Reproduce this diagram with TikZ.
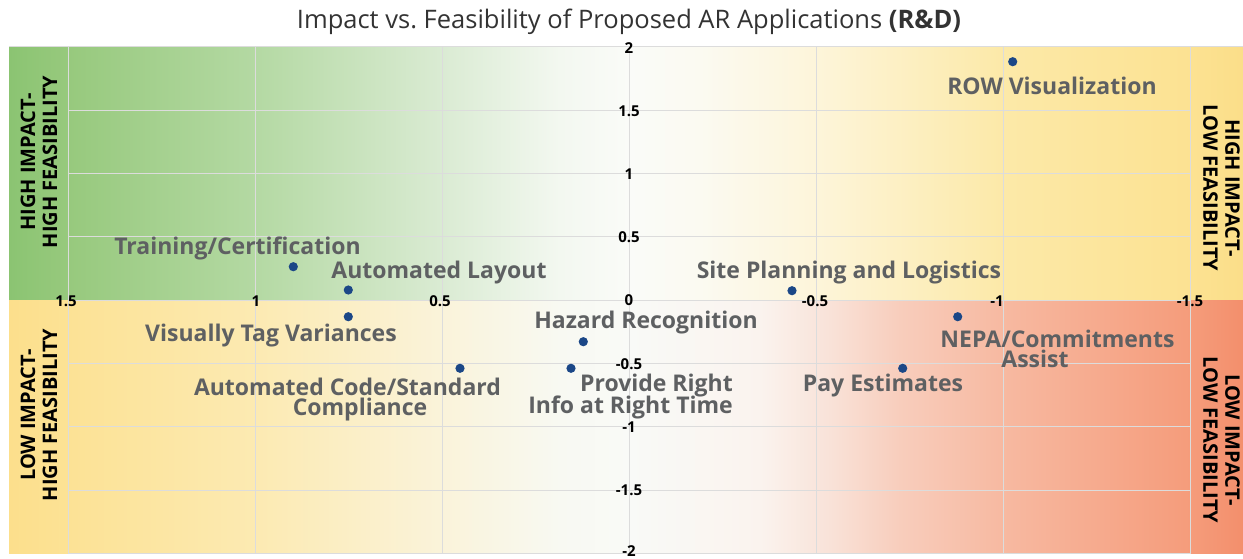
\documentclass[tikz,border=0pt]{standalone}
\usepackage{fontspec}
\setmainfont{Open Sans}
\definecolor{tA}{HTML}{8BC472}
\definecolor{tB}{HTML}{97C97D}
\definecolor{tC}{HTML}{B4D9A3}
\definecolor{tD}{HTML}{DAEBD3}
\definecolor{tE}{HTML}{F3F8F0}
\definecolor{tF}{HTML}{FAFBF8}
\definecolor{tG}{HTML}{FBFAF1}
\definecolor{tH}{HTML}{FDF5DA}
\definecolor{tI}{HTML}{FCE9A8}
\definecolor{tJ}{HTML}{FCE292}
\definecolor{tK}{HTML}{FBDE89}
\definecolor{bA}{HTML}{FCDF8C}
\definecolor{bB}{HTML}{FCE295}
\definecolor{bC}{HTML}{FCEAB2}
\definecolor{bD}{HTML}{FAF3DA}
\definecolor{bE}{HTML}{F8F9F2}
\definecolor{bF}{HTML}{F9FAF7}
\definecolor{bG}{HTML}{FAF3EE}
\definecolor{bH}{HTML}{F9E2D8}
\definecolor{bI}{HTML}{F8CDBC}
\definecolor{bJ}{HTML}{F7B9A1}
\definecolor{bK}{HTML}{F59C7B}
\definecolor{bL}{HTML}{F38F6C}
\definecolor{gridc}{HTML}{DCDCDC}
\definecolor{labc}{HTML}{5E6062}
\definecolor{dotc}{HTML}{1B4787}
\definecolor{titc}{HTML}{333333}
\pgfdeclarehorizontalshading{topshade}{100bp}{color(0bp)=(tA); color(25bp)=(tA); color(27.39bp)=(tB); color(35.01bp)=(tC); color(42.54bp)=(tD); color(47.32bp)=(tE); color(50.12bp)=(tF); color(53bp)=(tG); color(57.7bp)=(tH); color(65.28bp)=(tI); color(72.86bp)=(tJ); color(75bp)=(tK); color(100bp)=(tK)}
\pgfdeclarehorizontalshading{botshade}{100bp}{color(0bp)=(bA); color(25bp)=(bA); color(27.39bp)=(bB); color(35.01bp)=(bC); color(42.54bp)=(bD); color(47.32bp)=(bE); color(50.12bp)=(bF); color(55.43bp)=(bG); color(58.27bp)=(bH); color(61.1bp)=(bI); color(65.28bp)=(bJ); color(72.86bp)=(bK); color(75bp)=(bL); color(100bp)=(bL)}
\tikzset{
  gridline/.style={draw=gridc, line width=0.9pt},
  tick/.style={font=\fontsize{15}{18}\selectfont\bfseries, text=black, inner sep=0pt},
  lab/.style={font=\fontsize{23}{27}\selectfont\bfseries, text=labc, inner sep=0pt, anchor=base},
  dot/.style={circle, fill=dotc, minimum size=9.2pt, inner sep=0pt},
  band/.style={font=\fontsize{20}{22}\selectfont\bfseries, text=black, align=center, inner sep=0pt}
}
\begin{document}
\begin{tikzpicture}[x=1pt,y=-1pt]
\useasboundingbox (0,0) rectangle (1243,558);
\fill[white] (0,0) rectangle (1243,558);
\shade[shading=topshade] (9,46.7) rectangle (1243,300);
\shade[shading=botshade] (9,300) rectangle (1243,553.3);
% grid
\draw[gridline] (9,46.7) -- (1243,46.7);
\foreach \gx in {68,255.3,442.6,629,816.3,1003.6,1190.9}
  \draw[gridline] (\gx,46.7) -- (\gx,553.3);
\foreach \gy in {110,173.4,236.7,300,363.3,426.7,490,553.3}
  \draw[gridline] (68,\gy) -- (1190.9,\gy);
% title
\node[anchor=base, font=\fontsize{25.5}{29}\selectfont, text=titc, inner sep=0pt] (title) at (629,28) {Impact vs.\ Feasibility of Proposed AR Applications \textbf{(R\&D)}};
% x ticks
\node[tick] (xa) at (66,301) {1.5};
\node[tick] (xb) at (256,301) {1};
\node[tick] (xc) at (440,301) {0.5};
\node[tick] (xo) at (629,300) {0};
\node[tick] (xd) at (815,301) {-0.5};
\node[tick] (xe) at (997,301) {-1};
\node[tick] (xf) at (1190,301) {-1.5};
% y ticks
\node[tick] (ya) at (629,48) {2};
\node[tick] (yb) at (629,111) {1.5};
\node[tick] (yc) at (629,174) {1};
\node[tick] (yd) at (629,237.5) {0.5};
\node[tick] (ye) at (629,364.5) {-0.5};
\node[tick] (yf) at (629,427) {-1};
\node[tick] (yg) at (629,490) {-1.5};
\node[tick] (yh) at (629,551.5) {-2};
% band labels
\node[band, rotate=90] (blt) at (39,162) {HIGH IMPACT-\\HIGH FEASIBILITY};
\node[band, rotate=90] (blb) at (39,415) {LOW IMPACT-\\HIGH FEASIBILITY};
\node[band, rotate=-90] (brt) at (1221.5,188) {HIGH IMPACT-\\LOW FEASIBILITY};
\node[band, rotate=-90] (brb) at (1221.5,440) {LOW IMPACT-\\LOW FEASIBILITY};
% data points
\node[dot] (row) at (1012.7,61.7) {};
\node[dot] (train) at (293.3,266.7) {};
\node[dot] (alay) at (348.3,290) {};
\node[dot] (site) at (792,290.7) {};
\node[dot] (vtag) at (348.3,316.7) {};
\node[dot] (haz) at (583.3,341.7) {};
\node[dot] (prov) at (571,368.3) {};
\node[dot] (code) at (460,368.3) {};
\node[dot] (nepa) at (957.7,316.7) {};
\node[dot] (pay) at (902.7,368.3) {};
% labels
\node[lab] (rowl) at (1052,94.5) {ROW Visualization};
\node[lab] (trainl) at (237.5,254.3) {Training/Certification};
\node[lab] (alayl) at (439,278) {Automated Layout};
\node[lab] (sitel) at (849,278) {Site Planning and Logistics};
\node[lab] (vtagl) at (271,341.7) {Visually Tag Variances};
\node[lab] (hazl) at (646,328) {Hazard Recognition};
\node[lab, anchor=base east] (provl) at (733,391.7) {Provide Right};
\node[lab, anchor=base east] (provm) at (733,413.3) {Info at Right Time};
\node[lab] (codel) at (347.5,395) {Automated Code/Standard};
\node[lab] (codem) at (360,415.5) {Compliance};
\node[lab] (nepal) at (1057.5,347) {NEPA/Commitments};
\node[lab] (nepam) at (1035,367) {Assist};
\node[lab] (payl) at (883,391) {Pay Estimates};
\end{tikzpicture}
\end{document}
